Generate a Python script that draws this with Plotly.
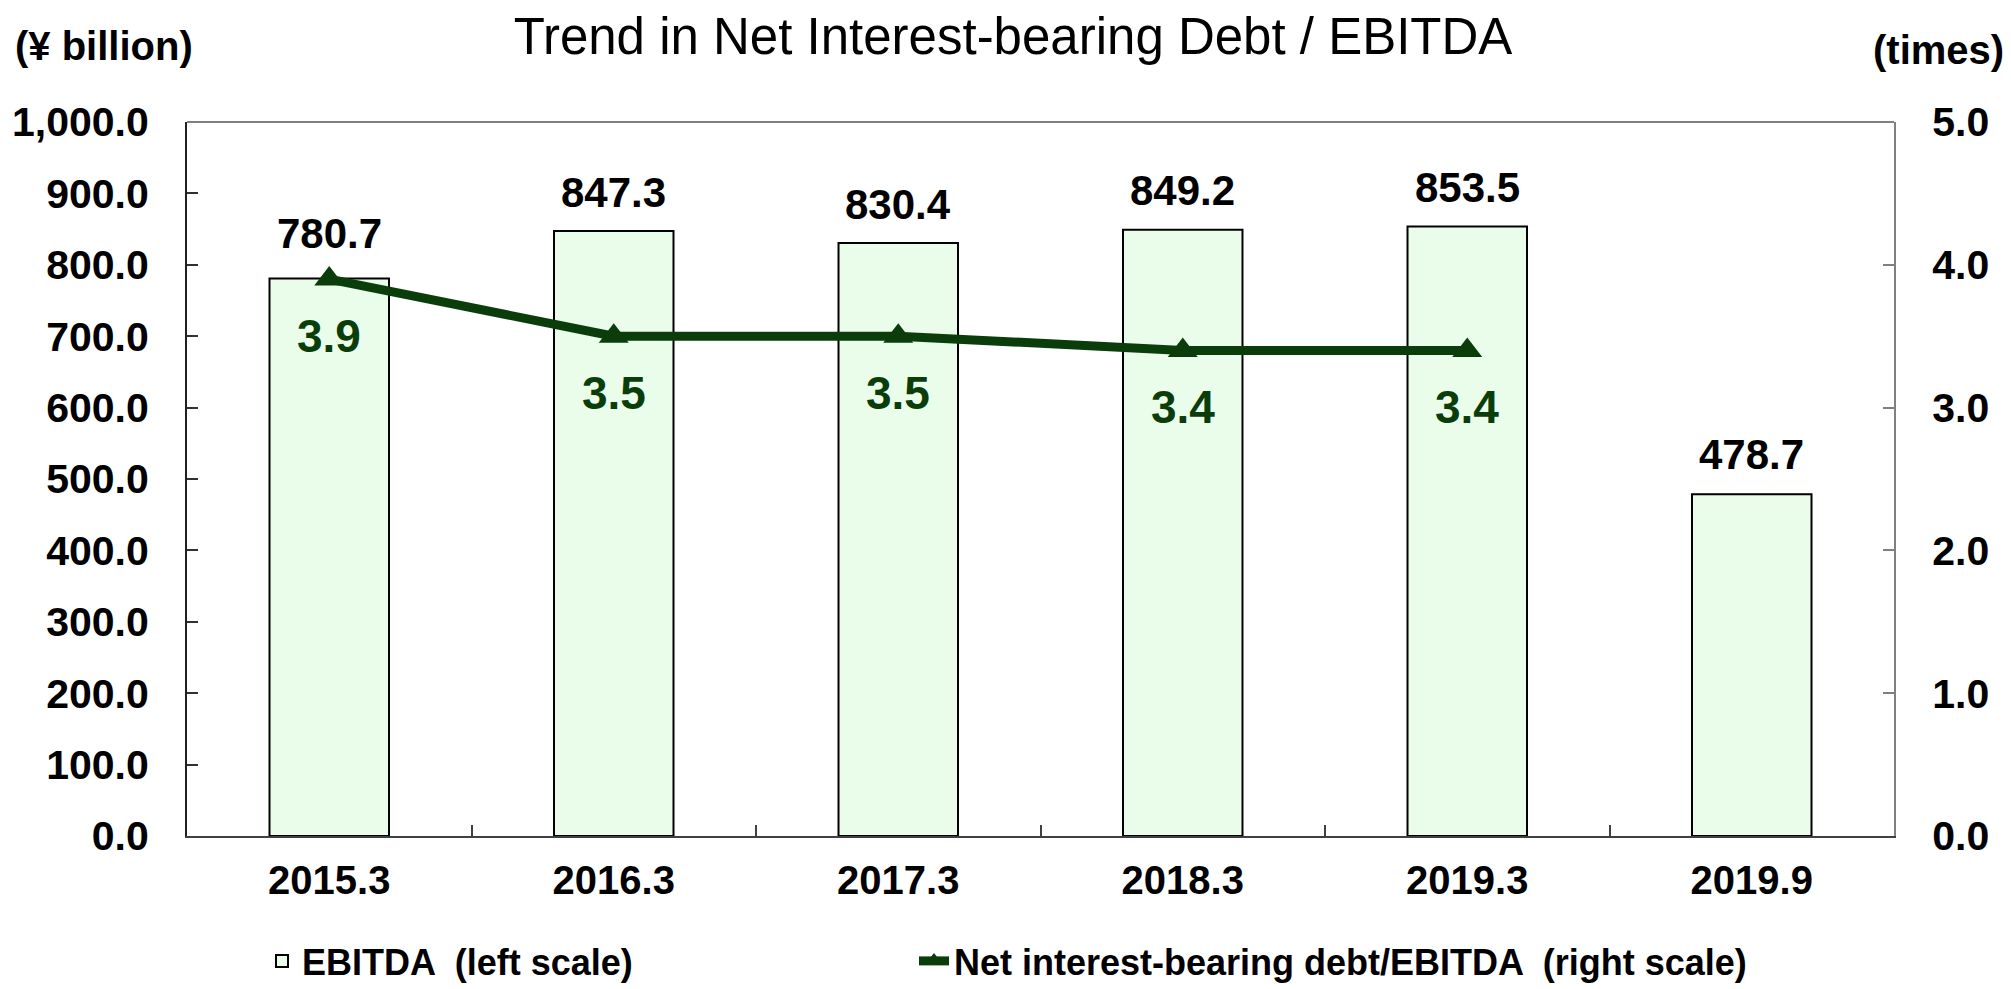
import plotly.graph_objects as go

categories = ["2015.3", "2016.3", "2017.3", "2018.3", "2019.3", "2019.9"]
ebitda = [780.7, 847.3, 830.4, 849.2, 853.5, 478.7]
ratio_categories = ["2015.3", "2016.3", "2017.3", "2018.3", "2019.3"]
ratio = [3.9, 3.5, 3.5, 3.4, 3.4]
left_ticks = [0, 100, 200, 300, 400, 500, 600, 700, 800, 900, 1000]
right_ticks = [0, 1, 2, 3, 4, 5]

# label offsets in pixels (style only)
bar_label_shift = [45, 39, 39, 39, 39, 40]

FONT = "Liberation Sans, Arial, sans-serif"
GREEN = "#0B3D0B"
W, H = 2011, 989
L, R, T, B = 187, 1894, 122, 836


def px_x(px):
    return (px - L) / (R - L)


def px_y(py):
    return (B - py) / (B - T)


fig = go.Figure()
fig.add_trace(go.Bar(
    x=categories, y=ebitda, name="EBITDA  (left scale)",
    width=0.42,
    marker=dict(color="#EAFDEA", line=dict(color="#000000", width=2)),
    yaxis="y", legend="legend", hoverinfo="x+y",
))
fig.add_trace(go.Scatter(
    x=ratio_categories, y=ratio, name="Net interest-bearing debt/EBITDA  (right scale)",
    mode="lines+markers",
    line=dict(color=GREEN, width=9),
    marker=dict(symbol="triangle-up", size=26, color=GREEN),
    yaxis="y2", legend="legend2",
))

annotations = []
for c, v, s in zip(categories, ebitda, bar_label_shift):
    annotations.append(dict(x=categories.index(c), y=v, xref="x", yref="y", text=f"{v:.1f}",
                            showarrow=False, yanchor="middle", yshift=s,
                            font=dict(family=FONT, size=42, color="#000000", weight="bold")))
for c, v in zip(ratio_categories, ratio):
    annotations.append(dict(x=categories.index(c), y=v, xref="x", yref="y2", text=f"{v:.1f}",
                            showarrow=False, yanchor="middle", yshift=-57,
                            font=dict(family=FONT, size=46, color=GREEN, weight="bold")))
annotations.append(dict(x=px_x(13), y=px_y(46), xref="paper", yref="paper",
                        xanchor="left", yanchor="middle", showarrow=False,
                        text="<b>(¥ billion)</b>",
                        font=dict(family=FONT, size=40, color="#000000")))
annotations.append(dict(x=px_x(2006), y=px_y(50), xref="paper", yref="paper",
                        xanchor="right", yanchor="middle", showarrow=False,
                        text="<b>(times)</b>",
                        font=dict(family=FONT, size=40, color="#000000")))

fig.update_layout(
    width=W, height=H,
    margin=dict(l=L, r=W - R, t=T, b=H - B, pad=0),
    paper_bgcolor="white", plot_bgcolor="white",
    font=dict(family=FONT, color="#000000"),
    title=dict(text="Trend in Net Interest-bearing Debt / EBITDA",
               x=1013 / W, xref="container", xanchor="center",
               y=1 - 36 / H, yref="container", yanchor="middle",
               font=dict(family=FONT, size=51, color="#000000")),
    xaxis=dict(type="category", categoryorder="array", categoryarray=categories,
               showline=True, linecolor="#404040", linewidth=2,
               ticks="inside", tickson="boundaries", ticklen=11, tickcolor="#404040",
               tickwidth=1.5, showgrid=False, zeroline=False,
               tickfont=dict(family=FONT, size=40, color="#000000", weight="bold"),
               ticklabelstandoff=8,
               range=[-0.5, 5.5]),
    yaxis=dict(range=[0, 1000], tickvals=left_ticks, tickformat=",.1f",
               showline=True, linecolor="#202020", linewidth=2,
               ticks="inside", ticklen=11, tickcolor="#303030", tickwidth=1.5,
               showgrid=False, zeroline=False,
               tickfont=dict(family=FONT, size=41, color="#000000", weight="bold"),
               ticklabelstandoff=28),
    yaxis2=dict(range=[0, 5], tickvals=right_ticks, tickformat=".1f",
                overlaying="y", side="right",
                showline=True, linecolor="#808080", linewidth=2,
                ticks="inside", ticklen=11, tickcolor="#808080", tickwidth=1.5,
                showgrid=False, zeroline=False,
                tickfont=dict(family=FONT, size=41, color="#000000", weight="bold"),
                ticklabelstandoff=28),
    legend=dict(orientation="h", x=262 / W, xref="container", xanchor="left",
                y=1 - 961 / H, yref="container", yanchor="middle",
                font=dict(family=FONT, size=36, color="#000000", weight="bold"),
                bgcolor="rgba(0,0,0,0)"),
    legend2=dict(orientation="h", x=914 / W, xref="container", xanchor="left",
                 y=1 - 961 / H, yref="container", yanchor="middle",
                 font=dict(family=FONT, size=36, color="#000000", weight="bold"),
                 bgcolor="rgba(0,0,0,0)"),
    annotations=annotations,
    shapes=[dict(type="line", xref="paper", yref="paper", x0=0, x1=1, y0=1, y1=1,
                 line=dict(color="#808080", width=2))],
    bargap=0.58,
    showlegend=True,
)

fig.write_html("out.html")
